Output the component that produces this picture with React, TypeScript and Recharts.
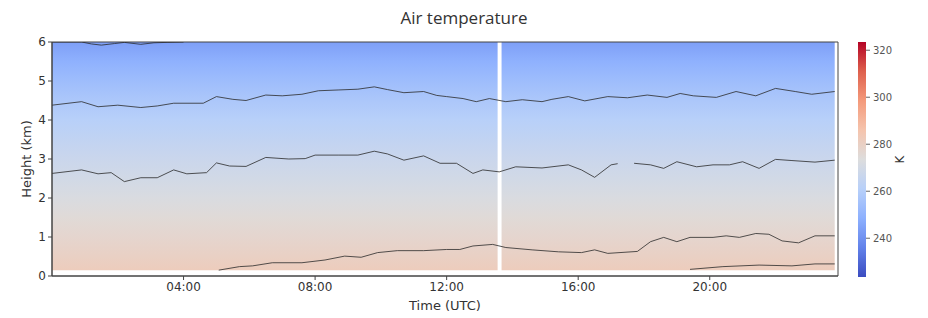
import React from "react";
import {
  ComposedChart,
  Line,
  XAxis,
  YAxis,
  ReferenceArea,
  Label,
} from "recharts";

// heatmap profile (height in km -> air temperature in K)
const profileHeights = [0.15, 0.5, 1, 1.5, 2, 2.5, 3, 3.5, 4, 4.5, 5, 5.5, 6];
const profileTemps = [282, 280, 277.5, 275, 272, 269.5, 267, 264, 261, 257.5, 253.5, 249, 244];

// data blocks (hours UTC), white gap in between
const blockStarts = [0, 13.67];
const blockEnds = [13.55, 23.8];

const timeTicks = [4, 8, 12, 16, 20];
const timeTickLabels = ["04:00", "08:00", "12:00", "16:00", "20:00"];
const heightTicks = [0, 1, 2, 3, 4, 5, 6];
const colorTicks = [240, 260, 280, 300, 320];
const colorMin = 223.5;
const colorMax = 323.5;

// contour lines
const topTimes = [0, 0.9, 1.2, 1.5, 1.9, 2.2, 2.7, 3.1, 3.5, 4.0];
const topHeights = [6.0, 6.0, 5.95, 5.92, 5.96, 5.99, 5.94, 5.98, 5.99, 6.0];

const upperTimes = [0, 0.9, 1.4, 2.0, 2.7, 3.2, 3.7, 4.6, 5.0, 5.5, 5.9, 6.5, 7.0, 7.6, 8.1, 8.7, 9.3, 9.8, 10.2, 10.7, 11.3, 11.7, 12.0, 12.5, 12.9, 13.3, 13.8, 14.3, 14.9, 15.2, 15.7, 16.2, 16.9, 17.5, 18.1, 18.7, 19.1, 19.5, 20.2, 20.8, 21.4, 22.0, 22.6, 23.1, 23.8];
const upperHeights = [4.38, 4.47, 4.34, 4.38, 4.32, 4.36, 4.43, 4.43, 4.6, 4.53, 4.5, 4.64, 4.62, 4.66, 4.75, 4.77, 4.79, 4.85, 4.78, 4.7, 4.73, 4.63, 4.6, 4.55, 4.47, 4.55, 4.47, 4.52, 4.47, 4.53, 4.6, 4.49, 4.6, 4.57, 4.64, 4.58, 4.68, 4.62, 4.58, 4.73, 4.62, 4.81, 4.73, 4.66, 4.73];

const midTimes = [0, 0.9, 1.4, 1.8, 2.2, 2.7, 3.2, 3.7, 4.1, 4.7, 5.0, 5.4, 5.9, 6.5, 7.2, 7.7, 8.0, 8.7, 9.3, 9.8, 10.2, 10.7, 11.3, 11.8, 12.3, 12.8, 13.1, 13.6, 14.1, 14.9, 15.7, 16.1, 16.5, 17.0, 17.2, 17.4, 17.7, 18.2, 18.6, 19.0, 19.6, 20.1, 20.6, 21.0, 21.5, 22.0, 22.5, 23.2, 23.8];
const midHeights = [2.63, 2.72, 2.62, 2.65, 2.42, 2.52, 2.52, 2.72, 2.62, 2.65, 2.9, 2.82, 2.81, 3.04, 3.0, 3.01, 3.1, 3.1, 3.1, 3.2, 3.13, 2.97, 3.08, 2.89, 2.89, 2.63, 2.72, 2.67, 2.8, 2.77, 2.85, 2.72, 2.53, 2.85, 2.88, null, 2.89, 2.85, 2.76, 2.93, 2.8, 2.85, 2.85, 2.93, 2.76, 2.99, 2.96, 2.92, 2.97];

const lowTimes = [5.07, 5.7, 6.1, 6.7, 7.6, 8.3, 8.9, 9.4, 9.9, 10.5, 11.3, 12.0, 12.4, 12.8, 13.4, 13.8, 14.6, 15.4, 16.1, 16.5, 16.9, 17.8, 18.2, 18.6, 19.0, 19.4, 20.1, 20.5, 20.9, 21.4, 21.8, 22.2, 22.7, 23.2, 23.8];
const lowHeights = [0.15, 0.24, 0.26, 0.34, 0.34, 0.41, 0.51, 0.48, 0.6, 0.65, 0.65, 0.68, 0.68, 0.77, 0.81, 0.73, 0.67, 0.62, 0.6, 0.67, 0.58, 0.63, 0.88, 0.99, 0.88, 0.99, 0.99, 1.03, 0.99, 1.09, 1.07, 0.9, 0.85, 1.03, 1.03];

const surfTimes = [19.4, 20.4, 21.5, 22.5, 23.2, 23.8];
const surfHeights = [0.17, 0.24, 0.28, 0.26, 0.31, 0.31];

// matplotlib "coolwarm"
const coolwarm = [
  [59, 76, 192], [98, 130, 234], [141, 176, 254], [184, 208, 249],
  [221, 221, 221], [245, 196, 173], [244, 154, 123], [222, 96, 77], [180, 4, 38],
];

function cmap(frac: number) {
  const f = Math.min(1, Math.max(0, frac)) * (coolwarm.length - 1);
  const i = Math.min(coolwarm.length - 2, Math.floor(f));
  const r = f - i;
  const c = coolwarm[i].map((v, k) => Math.round(v + (coolwarm[i + 1][k] - v) * r));
  return `rgb(${c[0]},${c[1]},${c[2]})`;
}

const tempColor = (t: number) => cmap((t - colorMin) / (colorMax - colorMin));

function pairs(times: number[], heights: (number | null)[]) {
  return times.map((t, i) => ({ t, h: heights[i] }));
}

const contours = [
  pairs(topTimes, topHeights),
  pairs(upperTimes, upperHeights),
  pairs(midTimes, midHeights),
  pairs(lowTimes, lowHeights),
  pairs(surfTimes, surfHeights),
];

const font = "'DejaVu Sans', sans-serif";
const axisColor = "#444";
const yTop = 6;
const yBottom = profileHeights[0];

// gradient stops must go top -> bottom (increasing offset)
const heatStops = profileHeights
  .map((h, i) => ({ offset: (yTop - h) / (yTop - yBottom), color: tempColor(profileTemps[i]) }))
  .reverse();

const barEnds = [{ x: 0 }, { x: 1 }];

export default function App() {
  return (
    <div style={{ position: "absolute", left: 0, top: 0, width: 928, height: 318, background: "#fff" }}>
      <div
        style={{
          position: "absolute",
          top: 6,
          left: 0,
          width: 928,
          textAlign: "center",
          fontFamily: "'Open Sans', sans-serif",
          fontSize: 17,
          color: "#333",
        }}
      >
        Air temperature
      </div>

      <div style={{ position: "absolute", left: 0, top: 0 }}>
        <ComposedChart width={928} height={318} margin={{ top: 42, right: 90, bottom: 8, left: 0 }}>
          <defs>
            <linearGradient id="heat" x1="0" y1="0" x2="0" y2="1">
              {heatStops.map((s, i) => (
                <stop key={i} offset={s.offset} stopColor={s.color} />
              ))}
            </linearGradient>
          </defs>
          <XAxis
            type="number"
            dataKey="t"
            domain={[0, 23.9]}
            allowDataOverflow
            ticks={timeTicks}
            tickFormatter={(v) => timeTickLabels[timeTicks.indexOf(v)]}
            tick={{ fill: "#333", fontSize: 12, fontFamily: font }}
            tickSize={4}
            tickMargin={2}
            stroke={axisColor}
            height={34}
          >
            <Label
              value="Time (UTC)"
              position="insideBottom"
              offset={0}
              style={{ fill: "#333", fontSize: 13, fontFamily: font }}
            />
          </XAxis>
          <YAxis
            type="number"
            domain={[0, 6]}
            ticks={heightTicks}
            allowDataOverflow
            tick={{ fill: "#333", fontSize: 12, fontFamily: font }}
            tickSize={4}
            tickMargin={2}
            stroke={axisColor}
            width={52}
          >
            <Label
              value="Height (km)"
              angle={-90}
              position="insideLeft"
              offset={26}
              style={{ fill: "#333", fontSize: 13, fontFamily: font, textAnchor: "middle" }}
            />
          </YAxis>
          {blockStarts.map((s, i) => (
            <ReferenceArea
              key={s}
              x1={s}
              x2={blockEnds[i]}
              y1={yBottom}
              y2={yTop}
              fill="url(#heat)"
              fillOpacity={1}
              stroke="none"
            />
          ))}
          {contours.map((d, i) => (
            <Line
              key={i}
              data={d}
              dataKey="h"
              type="linear"
              stroke="#2a2a2a"
              strokeOpacity={0.8}
              strokeWidth={1}
              dot={false}
              activeDot={false}
              connectNulls={false}
              isAnimationActive={false}
            />
          ))}
          <ReferenceArea
            x1={0}
            x2={23.9}
            y1={0}
            y2={6}
            fill="none"
            fillOpacity={0}
            stroke={axisColor}
            strokeWidth={1}
          />
        </ComposedChart>
      </div>

      <div style={{ position: "absolute", left: 0, top: 0 }}>
        <ComposedChart
          width={928}
          height={318}
          data={barEnds}
          margin={{ top: 42, right: 22, bottom: 41, left: 858 }}
        >
          <defs>
            <linearGradient id="cbar" x1="0" y1="1" x2="0" y2="0">
              {coolwarm.map((c, i) => (
                <stop
                  key={i}
                  offset={i / (coolwarm.length - 1)}
                  stopColor={`rgb(${c[0]},${c[1]},${c[2]})`}
                />
              ))}
            </linearGradient>
          </defs>
          <XAxis type="number" dataKey="x" domain={[0, 1]} hide />
          <YAxis
            type="number"
            orientation="right"
            domain={[colorMin, colorMax]}
            ticks={colorTicks}
            allowDataOverflow
            tick={{ fill: "#555", fontSize: 10, fontFamily: font }}
            tickSize={4}
            tickMargin={3}
            stroke="#666"
            axisLine={false}
            width={40}
          >
            <Label
              value="K"
              angle={-90}
              position="insideRight"
              offset={6}
              style={{ fill: "#333", fontSize: 12, fontFamily: font, textAnchor: "middle" }}
            />
          </YAxis>
          <ReferenceArea
            x1={0}
            x2={1}
            y1={colorMin}
            y2={colorMax}
            fill="url(#cbar)"
            fillOpacity={1}
            stroke="none"
          />
        </ComposedChart>
      </div>
    </div>
  );
}
